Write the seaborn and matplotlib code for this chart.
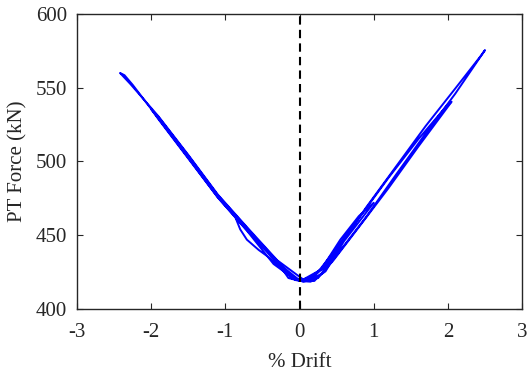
import pandas as pd
import matplotlib
matplotlib.use('Agg')
import matplotlib.pyplot as plt
import seaborn as sns

# Drift history (%) and post-tension force (kN)
drift = [
    0.00, 0.15, 0.30, 0.50, 0.35, 0.15, 0.00, -0.15, -0.30, -0.50, -0.35, -0.15, 0.00,
    0.15, 0.35, 0.60, 0.80, 1.00, 0.80, 0.55, 0.30, 0.10, -0.10, -0.30, -0.55, -0.75,
    -0.86, -0.80, -0.71, -0.55, -0.40, -0.20, 0.00,
    0.20, 0.45, 0.80, 1.20, 1.60, 2.05, 1.98, 1.60, 1.20, 0.80, 0.45, 0.20, 0.00,
    -0.30, -0.70, -1.10, -1.50, -1.90, -2.00, -1.90, -1.50, -1.10, -0.70, -0.40, -0.10, 0.05,
    0.25, 0.50, 0.90, 1.30, 1.70, 2.10, 2.50, 2.45, 2.10, 1.70, 1.30, 0.90, 0.55,
    0.30, 0.05, -0.30, -0.70, -1.10, -1.50, -1.90, -2.28, -2.42, -2.36, -2.25,
    -1.90, -1.50, -1.10, -0.70, -0.35, -0.05, 0.00,
]
force = [
    420.0, 419.5, 424.0, 438.5, 429.0, 420.5, 419.0, 421.0, 432.0, 443.0, 435.0, 423.5, 419.0,
    418.5, 425.5, 446.0, 459.0, 472.0, 463.0, 447.0, 427.5, 419.5, 420.5, 432.5, 446.0, 456.0,
    461.5, 454.0, 447.0, 440.0, 434.5, 425.0, 419.0,
    419.0, 432.5, 455.5, 482.0, 510.0, 540.5, 537.5, 515.0, 489.0, 461.5, 438.0, 422.0, 419.5,
    431.5, 454.5, 477.0, 504.0, 530.0, 535.5, 528.5, 502.0, 475.5, 453.0, 436.5, 421.5, 418.5,
    421.0, 436.5, 462.5, 491.0, 519.0, 546.0, 575.5, 572.0, 549.5, 524.0, 496.5, 469.0, 443.5,
    427.0, 420.0, 433.0, 455.0, 477.5, 504.5, 530.5, 552.5, 560.0, 558.5, 552.0,
    529.0, 502.5, 475.5, 452.5, 430.5, 419.5, 420.0,
]

df = pd.DataFrame({'Drift': drift, 'Force': force})

sns.set_theme(style='ticks')
plt.rcParams['font.family'] = ['Liberation Serif', 'DejaVu Serif']
plt.rcParams['axes.unicode_minus'] = False
plt.rcParams['xtick.direction'] = 'in'
plt.rcParams['ytick.direction'] = 'in'

fig = plt.figure(figsize=(5.3, 3.72), dpi=100)
ax = fig.add_axes([0.1453, 0.1694, 0.8397, 0.793])

sns.lineplot(data=df, x='Drift', y='Force', sort=False, estimator=None,
             color='#0000ff', linewidth=1.4, ax=ax)
ax.axvline(0, color='black', linestyle=(0, (4, 2.5)), linewidth=1.5)

ax.set_xlim(-3, 3)
ax.set_ylim(400, 600)
ax.set_xticks([-3, -2, -1, 0, 1, 2, 3])
ax.set_yticks([400, 450, 500, 550, 600])
ax.set_xlabel('% Drift', fontsize=15, color='#262626', labelpad=8)
ax.set_ylabel('PT Force (kN)', fontsize=15, color='#262626', labelpad=6)
ax.tick_params(axis='both', labelsize=15, labelcolor='#262626', length=4, width=0.8,
               top=True, right=True, color='#262626', pad=7)
ax.tick_params(axis='x', pad=10)
for s in ax.spines.values():
    s.set_color('#262626')
    s.set_linewidth(1.0)

fig.savefig('out.png', dpi=100)
